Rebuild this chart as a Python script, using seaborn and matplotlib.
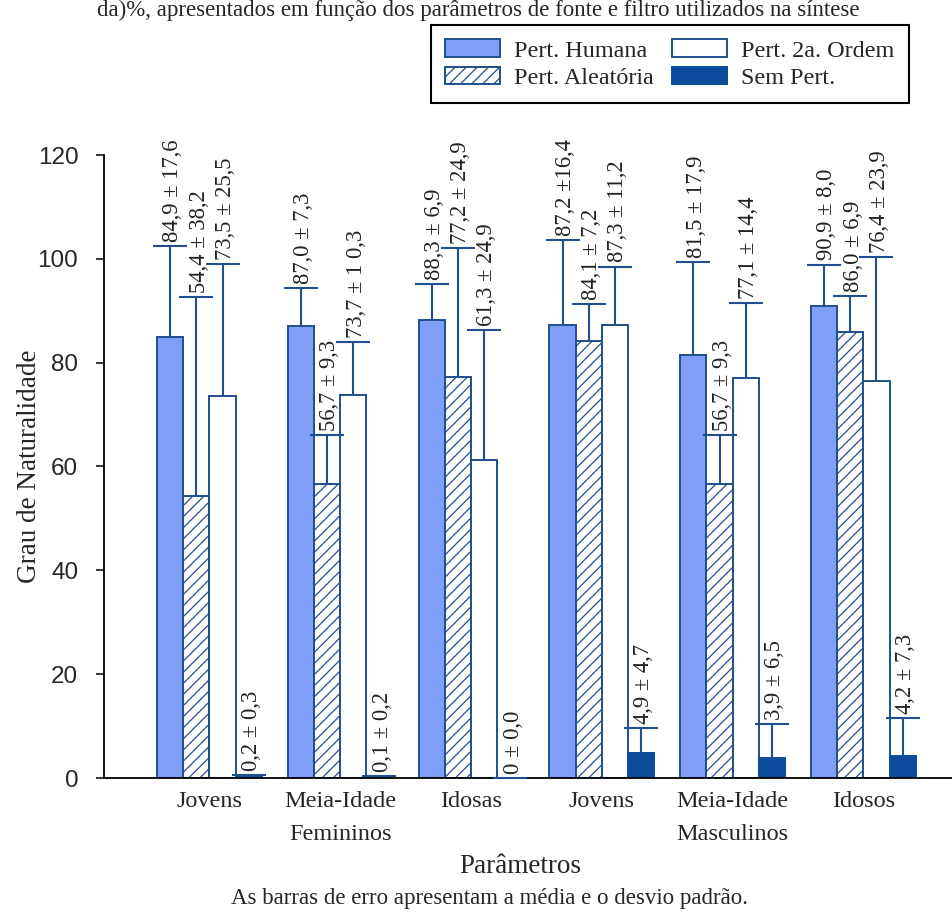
import matplotlib
matplotlib.use("Agg")
import matplotlib.pyplot as plt
import matplotlib.transforms as mtransforms
import seaborn as sns
import pandas as pd

# ---- data -------------------------------------------------------------
grupos = ["Jovens", "Meia-Idade", "Idosas", "Jovens", "Meia-Idade", "Idosos"]
chaves = ["F-Jovens", "F-Meia", "F-Idosas", "M-Jovens", "M-Meia", "M-Idosos"]
perturbacoes = ["Pert. Humana", "Pert. Aleatória", "Pert. 2a. Ordem", "Sem Pert."]

media_humana = [84.9, 87.0, 88.3, 87.2, 81.5, 90.9]
dp_humana = [17.6, 7.3, 6.9, 16.4, 17.9, 8.0]
media_aleatoria = [54.4, 56.7, 77.2, 84.1, 56.7, 86.0]
dp_aleatoria = [38.2, 9.3, 24.9, 7.2, 9.3, 6.9]
media_ordem2 = [73.5, 73.7, 61.3, 87.3, 77.1, 76.4]
dp_ordem2 = [25.5, 10.3, 24.9, 11.2, 14.4, 23.9]
media_sem = [0.2, 0.1, 0.0, 4.9, 3.9, 4.2]
dp_sem = [0.3, 0.2, 0.0, 4.7, 6.5, 7.3]

rotulos_humana = ["84,9 ± 17,6", "87,0 ± 7,3", "88,3 ± 6,9", "87,2 ±16,4", "81,5 ± 17,9", "90,9 ± 8,0"]
rotulos_aleatoria = ["54,4 ± 38,2", "56,7 ± 9,3", "77,2 ± 24,9", "84,1 ± 7,2", "56,7 ± 9,3", "86,0 ± 6,9"]
rotulos_ordem2 = ["73,5 ± 25,5", "73,7 ± 1 0,3", "61,3 ± 24,9", "87,3 ± 11,2", "77,1 ± 14,4", "76,4 ± 23,9"]
rotulos_sem = ["0,2 ± 0,3", "0,1 ± 0,2", "0 ± 0,0", "4,9 ± 4,7", "3,9 ± 6,5", "4,2 ± 7,3"]

medias = [media_humana, media_aleatoria, media_ordem2, media_sem]
desvios = [dp_humana, dp_aleatoria, dp_ordem2, dp_sem]
rotulos = [rotulos_humana, rotulos_aleatoria, rotulos_ordem2, rotulos_sem]

linhas = []
for pert, vals in zip(perturbacoes, medias):
    for chave, v in zip(chaves, vals):
        linhas.append({"grupo": chave, "perturbacao": pert, "valor": v})
df = pd.DataFrame(linhas)

# ---- style ------------------------------------------------------------
sns.set_theme(style="ticks")
SERIF = ["Liberation Serif", "DejaVu Serif"]
SANS = ["Liberation Sans", "DejaVu Sans"]
plt.rcParams["font.family"] = SERIF
plt.rcParams["hatch.linewidth"] = 0.9

AZUL_CLARO = "#7f9ff7"
AZUL_ESCURO = "#0c4c9c"
CONTORNO = "#1f4f8c"

fig = plt.figure(figsize=(9.53, 9.13), dpi=100)
ax = fig.add_axes([104 / 953, 1 - 778 / 913, (953 - 104) / 953, (778 - 155) / 913])

sns.barplot(data=df, x="grupo", y="valor", hue="perturbacao", order=chaves,
            hue_order=perturbacoes, width=0.8, errorbar=None, legend=False,
            palette=[AZUL_CLARO, "white", "white", AZUL_ESCURO], ax=ax)

estilos = [
    dict(facecolor=AZUL_CLARO, edgecolor=CONTORNO, hatch=None),
    dict(facecolor="white", edgecolor=CONTORNO, hatch="///"),
    dict(facecolor="white", edgecolor=CONTORNO, hatch=None),
    dict(facecolor=AZUL_ESCURO, edgecolor=AZUL_ESCURO, hatch=None),
]

barras_series = list(ax.containers)

for cont, est, med, dp, rot in zip(barras_series, estilos, medias, desvios, rotulos):
    xs = []
    for barra in cont.patches:
        barra.set_facecolor(est["facecolor"])
        barra.set_edgecolor(est["edgecolor"])
        barra.set_linewidth(1.4)
        if est["hatch"]:
            barra.set_hatch(est["hatch"])
        xs.append(barra.get_x() + barra.get_width() / 2)
    # one-sided (upper) standard deviation bars, cap only on top
    _, caps, _ = ax.errorbar(xs, med, yerr=[[0] * len(dp), dp], fmt="none",
                             ecolor=CONTORNO, elinewidth=1.5, capsize=12.5,
                             capthick=1.5, zorder=3)
    caps[0].set_visible(False)
    for x, m, d, t in zip(xs, med, dp, rot):
        ax.annotate(t, xy=(x, m + d), xytext=(2, 3), textcoords="offset points",
                    rotation=90, ha="center", va="bottom", fontsize=16.3,
                    color="#222222", annotation_clip=False)

# ---- axes -------------------------------------------------------------
ax.set_xlim(-0.806, 5.685)
ax.set_ylim(0, 120)
ax.set_yticks(range(0, 121, 20))
ax.set_yticklabels([str(v) for v in range(0, 121, 20)], family=SANS, fontsize=17.5)
ax.set_xticks(range(len(grupos)))
ax.set_xticklabels(grupos, fontsize=17.5)
ax.tick_params(axis="x", length=0, pad=9)
ax.tick_params(axis="y", direction="out", length=6, width=1.3, pad=12.5)
ax.set_xlabel("")
ax.set_ylabel("Grau de Naturalidade", fontsize=19.5)
ax.yaxis.set_label_coords(-0.073, 0.5)
sns.despine(ax=ax)
for lado in ("left", "bottom"):
    ax.spines[lado].set_linewidth(1.3)
    ax.spines[lado].set_color("black")

# sex group labels under the middle category of each half
trans = mtransforms.blended_transform_factory(ax.transData, fig.transFigure)
ax.text(1, 1 - 834 / 913, "Femininos", transform=trans, ha="center", va="center", fontsize=17.5)
ax.text(4, 1 - 834 / 913, "Masculinos", transform=trans, ha="center", va="center", fontsize=17.5)

fig.text(520 / 953, 1 - 866 / 913, "Parâmetros", ha="center", va="center", fontsize=19.5)
fig.text(490 / 953, 1 - 898 / 913, "As barras de erro apresentam a média e o desvio padrão.",
         ha="center", va="center", fontsize=16.5)
fig.text(478 / 953, 1 - 16 / 913,
         "da)%, apresentados em função dos parâmetros de fonte e filtro utilizados na síntese",
         ha="center", va="baseline", fontsize=16.5)

# ---- legend -----------------------------------------------------------
handles = [c.patches[0] for c in barras_series]
leg = fig.legend(handles, perturbacoes, ncol=2, loc="upper left",
                 bbox_to_anchor=(431 / 953, 1 - 25 / 913), fontsize=17.4,
                 frameon=True, fancybox=False, framealpha=1, edgecolor="black",
                 handlelength=2.27, handleheight=0.75, handletextpad=0.58,
                 columnspacing=0.75, labelspacing=0.2, borderpad=0.6,
                 borderaxespad=0)
leg.get_frame().set_linewidth(1.5)

fig.savefig("out.png", dpi=100)
